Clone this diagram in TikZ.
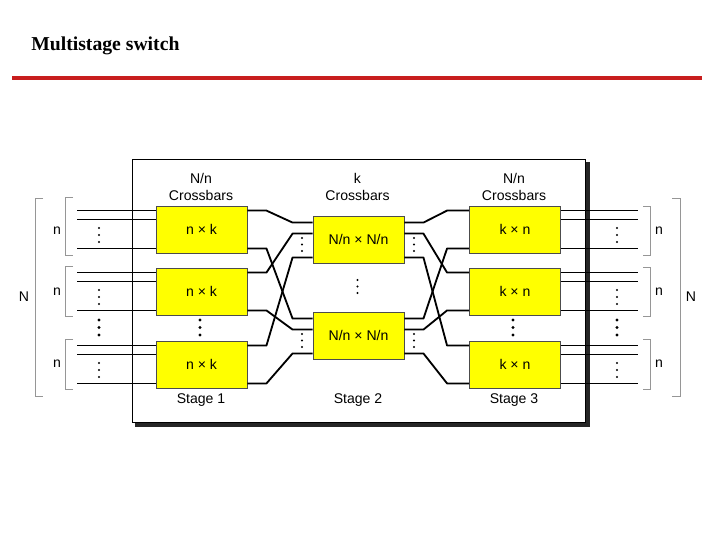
\documentclass[tikz,border=0pt]{standalone}
\usepackage{fontspec}
\setmainfont{Liberation Sans}
\newfontfamily\titlefont{Liberation Serif}
\usetikzlibrary{calc}
\definecolor{swYellow}{RGB}{255,255,0}
\definecolor{swRed}{RGB}{200,30,30}
\definecolor{swBracket}{RGB}{150,150,150}

\begin{document}
\begin{tikzpicture}[x=0.025cm, y=-0.025cm,
    xbox/.style={draw=black!70, fill=swYellow, line width=0.6pt,
      minimum width=2.275cm, minimum height=1.175cm, inner sep=0pt},
    wire/.style={line width=1.3pt, line join=round},
    brk/.style={draw=swBracket, line width=0.7pt},
    lbl/.style={inner sep=0pt, align=center},
    frame/.style={draw=black, line width=0.6pt, fill=white,
      minimum width=11.325cm, minimum height=6.575cm, inner sep=0pt}
  ]
  \useasboundingbox (0,0) rectangle (720,540);
  % heading
  \node[anchor=west, inner sep=0pt, font=\titlefont\bfseries\fontsize{14}{16}\selectfont] (title) at (31,46) {Multistage switch};
  \draw[swRed, line width=2.2pt] (12,78) -- (702,78);

  % outer frame with shadow
  \node[frame] (frame) at (358.5,290.5) {};
  \draw[black!85, line width=2.2pt] ($(frame.south west)+(3,2.5)$) -- ($(frame.south east)+(2.5,2.5)$) -- ($(frame.north east)+(2.5,3)$);

  % crossbars
  \foreach \n/\y in {a/229.5, b/291.5, c/364.5} {
    \node[xbox] (s1\n) at (201.5,\y) {n × k};
    \node[xbox] (s3\n) at (515,\y) {k × n};
  }
  \node[xbox] (s2a) at (358.5,239.5) {N/n × N/n};
  \node[xbox] (s2b) at (358.5,335.5) {N/n × N/n};

  % ports
  \coordinate (inx) at (77,0);
  \coordinate (outx) at (638,0);
  \foreach \n in {a,b,c} {
    \coordinate (s1\n-i1) at ($(s1\n.north west)+(0,5)$);
    \coordinate (s1\n-i2) at ($(s1\n.north west)+(0,14)$);
    \coordinate (s1\n-i3) at ($(s1\n.south west)+(0,-5)$);
    \coordinate (s1\n-o1) at ($(s1\n.north east)+(0,5)$);
    \coordinate (s1\n-o2) at ($(s1\n.south east)+(0,-5)$);
    \coordinate (s3\n-i1) at ($(s3\n.north west)+(0,5)$);
    \coordinate (s3\n-i2) at ($(s3\n.south west)+(0,-5)$);
    \coordinate (s3\n-o1) at ($(s3\n.north east)+(0,5)$);
    \coordinate (s3\n-o2) at ($(s3\n.north east)+(0,14)$);
    \coordinate (s3\n-o3) at ($(s3\n.south east)+(0,-5)$);
  }
  \foreach \n in {a,b} {
    \coordinate (s2\n-i1) at ($(s2\n.north west)+(0,7)$);
    \coordinate (s2\n-i2) at ($(s2\n.north west)+(0,18)$);
    \coordinate (s2\n-i3) at ($(s2\n.south west)+(0,-6)$);
    \coordinate (s2\n-o1) at ($(s2\n.north east)+(0,7)$);
    \coordinate (s2\n-o2) at ($(s2\n.north east)+(0,18)$);
    \coordinate (s2\n-o3) at ($(s2\n.south east)+(0,-6)$);
  }

  % input and output lines
  \foreach \n in {a,b,c} {
    \foreach \p in {1,2,3} {
      \draw[wire] (s1\n-i\p -| inx) -- (s1\n-i\p);
      \draw[wire] (s3\n-o\p) -- (s3\n-o\p -| outx);
    }
  }

  % interstage links
  \foreach \j/\n in {1/a, 2/b, 3/c} {
    \draw[wire] (s1\n-o1) -- ++(19,0) -- ($(s2a-i\j)+(-20,0)$) -- (s2a-i\j);
    \draw[wire] (s1\n-o2) -- ++(19,0) -- ($(s2b-i\j)+(-20,0)$) -- (s2b-i\j);
    \draw[wire] (s2a-o\j) -- ++(19,0) -- ($(s3\n-i1)+(-22,0)$) -- (s3\n-i1);
    \draw[wire] (s2b-o\j) -- ++(19,0) -- ($(s3\n-i2)+(-22,0)$) -- (s3\n-i2);
  }

  % dots
  \foreach \t in {206,268,341} {
    \foreach \d in {22,29,36} {
      \fill (99,{\t+\d}) circle[radius=0.75pt];
      \fill (617,{\t+\d}) circle[radius=0.75pt];
    }
  }
  \foreach \t in {216,312} {
    \foreach \d in {22,28.5,35} {
      \fill (302,{\t+\d}) circle[radius=0.75pt];
      \fill (414,{\t+\d}) circle[radius=0.75pt];
    }
  }
  \foreach \y in {280,286.5,293} \fill (357.5,\y) circle[radius=0.75pt];
  \foreach \x in {99,200,513,617} {
    \foreach \y in {320,327.5,335} \fill (\x,\y) circle[radius=1.1pt];
  }

  % brackets
  \foreach \a/\b in {197/255, 266/316, 339/389} \draw[brk] (73,\a) -- (65,\a) -- (65,\b) -- (73,\b);
  \foreach \a/\b in {206/255, 267/316, 339/389} \draw[brk] (643,\a) -- (650,\a) -- (650,\b) -- (643,\b);
  \draw[brk] (43,198) -- (35,198) -- (35,396) -- (43,396);
  \draw[brk] (672,198) -- (680,198) -- (680,396) -- (672,396);

  % labels
  \foreach \k/\y in {1/231, 2/292, 3/364} {
    \node[lbl] (nl\k) at (57,\y) {n};
    \node[lbl] (nr\k) at (659,\y) {n};
  }
  \node[lbl] (bigl) at (24,297) {N};
  \node[lbl] (bigr) at (691,297) {N};
  \node[lbl] (head1) at (201,187) {N/n\\Crossbars};
  \node[lbl] (head2) at (357.5,187) {k\\Crossbars};
  \node[lbl] (head3) at (514,187) {N/n\\Crossbars};
  \node[lbl] (stage1) at (201,400) {Stage 1};
  \node[lbl] (stage2) at (358,400) {Stage 2};
  \node[lbl] (stage3) at (514,400) {Stage 3};
\end{tikzpicture}
\end{document}
